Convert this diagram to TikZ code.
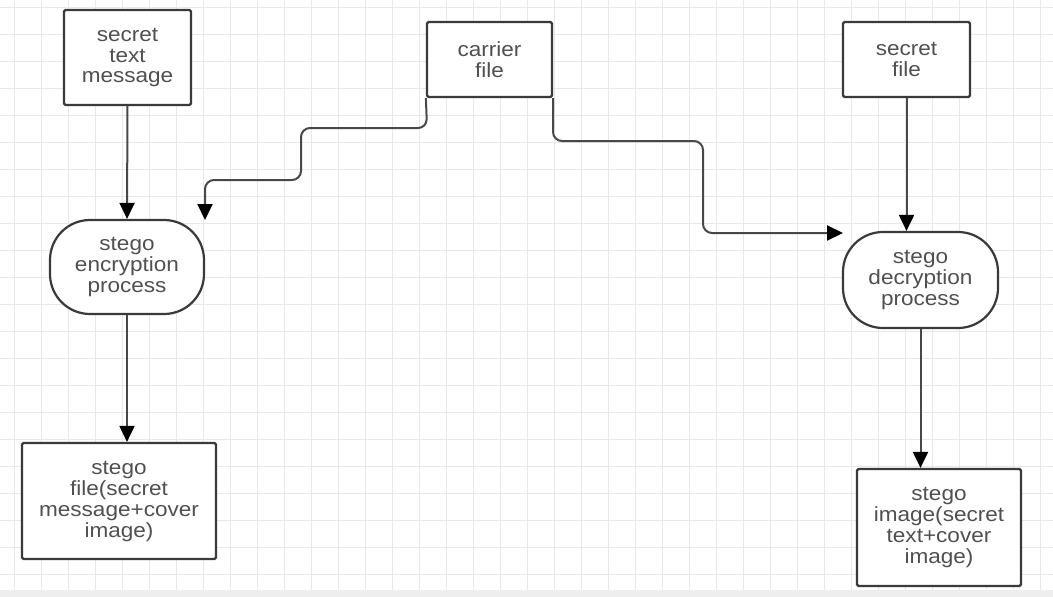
\documentclass[tikz,border=0pt]{standalone}
\usepackage{fontspec}
\setmainfont{Liberation Sans}
\newfontfamily\diagfont[FakeStretch=1.1]{Liberation Sans}
\usetikzlibrary{arrows.meta}
\definecolor{ln}{HTML}{3A3A3A}
\definecolor{cl}{HTML}{484848}
\definecolor{tx}{HTML}{505050}
\definecolor{gridc}{HTML}{E8E8E8}
\definecolor{strip}{HTML}{EEEEEE}
\begin{document}
\begin{tikzpicture}[x=1pt,y=-1pt,
  box/.style={draw=ln, line width=2.2pt, fill=white, rounded corners=1.5pt, inner sep=0pt,
    align=center, text=tx, font=\diagfont\fontsize{20.5}{21}\selectfont},
  proc/.style={box, rounded corners=40pt},
  conn/.style={draw=cl, line width=2pt, -{Triangle[length=16pt,width=15pt,color=black]}, rounded corners=9pt}]
\fill[white] (0,0) rectangle (1053,597);
\useasboundingbox (0,0) rectangle (1053,597);
\foreach \x in {14,41,...,1053} \draw[gridc, line width=0.9pt] (\x,0) -- (\x,590);
\foreach \y in {7,34,...,590} \draw[gridc, line width=0.9pt] (0,\y) -- (1053,\y);
\fill[strip] (0,590) rectangle (1053,597);

\node[box, minimum width=127pt, minimum height=95pt] (stm) at (127.5,57.5) {secret\\text\\message};
\node[box, minimum width=125pt, minimum height=75pt] (car) at (489.5,59.5) {carrier\\file};
\node[box, minimum width=127pt, minimum height=75pt] (sec) at (906.5,59.5) {secret\\file};
\node[proc, minimum width=154pt, minimum height=94pt] (enc) at (127,267) {stego\\encryption\\process};
\node[proc, minimum width=155pt, minimum height=96pt] (dec) at (920.5,280) {stego\\decryption\\process};
\node[box, minimum width=194pt, minimum height=116pt] (sfile) at (119,501) {stego\\file(secret\\message+cover\\image)};
\node[box, minimum width=164pt, minimum height=117pt] (simg) at (939,527.5) {stego\\image(secret\\text+cover\\image)};

\coordinate (encin) at (205,220);
\coordinate (decin) at (843,233);

\draw[conn] (stm.south) -- (enc.north);
\draw[conn] (enc.south) -- (enc.south |- sfile.north);
\draw[conn] (sec.south) -- (sec.south |- dec.north);
\draw[conn] (dec.south) -- (dec.south |- simg.north);
\draw[conn] (car.south west) -- (427,128) -- (301,128) -- (301,180) -- (205,180) -- (encin);
\draw[conn] (car.south east) -- (553,141) -- (703,141) -- (703,233) -- (decin);
\end{tikzpicture}
\end{document}
